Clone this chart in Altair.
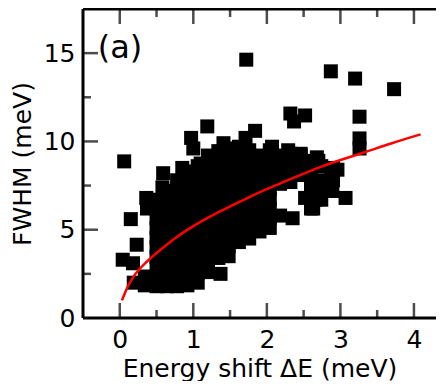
import altair as alt
import pandas as pd

# ---- scatter data ----
# dense cluster, listed column by column
col_x = [0.34, 0.50, 0.64, 0.78, 0.92, 1.06, 1.20, 1.34, 1.48, 1.62, 1.76, 1.90, 2.04, 2.18, 2.32, 2.46, 2.60, 2.74, 2.88]
col_y = [
    [1.85, 2.35],
    [1.8, 2.35, 2.9, 3.45, 4.0, 4.55, 5.1, 5.65, 6.2, 6.7],
    [1.8, 2.35, 2.9, 3.45, 4.0, 4.55, 5.1, 5.65, 6.2, 6.75, 7.2],
    [1.8, 2.35, 2.9, 3.45, 4.0, 4.55, 5.1, 5.65, 6.2, 6.75, 7.3, 7.8],
    [1.85, 2.4, 2.95, 3.5, 4.05, 4.6, 5.15, 5.7, 6.25, 6.8, 7.35, 7.9, 8.3],
    [2.0, 2.55, 3.1, 3.65, 4.2, 4.75, 5.3, 5.85, 6.4, 6.95, 7.5, 8.05, 8.6],
    [2.6, 3.15, 3.7, 4.25, 4.8, 5.35, 5.9, 6.45, 7.0, 7.55, 8.1, 8.65, 9.2],
    [3.4, 3.95, 4.5, 5.05, 5.6, 6.15, 6.7, 7.25, 7.8, 8.35, 8.9, 9.45],
    [3.5, 4.05, 4.6, 5.15, 5.7, 6.25, 6.8, 7.35, 7.9, 8.45, 9.0, 9.6],
    [4.3, 4.85, 5.4, 5.95, 6.5, 7.05, 7.6, 8.15, 8.7, 9.25, 9.7],
    [4.5, 5.05, 5.6, 6.15, 6.7, 7.25, 7.8, 8.35, 8.9, 9.5],
    [4.9, 5.45, 6.0, 6.55, 7.1, 7.65, 8.2, 8.75, 9.2],
    [5.1, 5.65, 6.2, 6.75, 7.3, 7.85, 8.4, 8.95, 9.5],
    [5.8, 7.6, 8.15, 8.7, 9.2],
    [7.7, 8.25, 8.8, 9.3],
    [8.1, 8.65, 9.2],
    [6.2, 7.4, 7.95, 8.5, 8.9],
    [6.7, 7.25, 8.6],
    [7.2, 7.8, 8.3],
]
# scattered squares around the cluster and outliers
extra_x = [0.06, 1.19, 0.97, 1.00, 1.10, 0.85, 0.59, 0.58, 0.78, 0.36, 0.15, 0.23, 0.04, 0.18, 0.19,
           0.37, 1.37, 1.41, 1.71, 1.84, 2.07, 2.29, 2.46, 2.68, 2.70, 2.90, 2.96, 2.73, 2.90, 2.89,
           2.66, 2.52, 2.63, 2.35, 3.07, 1.72, 2.87, 3.20, 3.73, 2.32, 2.52, 2.37, 3.26, 3.26, 3.26]
extra_y = [8.87, 10.85, 10.2, 9.6, 8.75, 8.5, 8.2, 7.4, 7.1, 6.8, 5.6, 4.15, 3.3, 3.1, 2.0,
           6.2, 2.5, 9.9, 10.2, 10.6, 9.7, 9.5, 9.3, 9.1, 8.9, 8.5, 8.4, 7.8, 7.8, 7.2,
           6.7, 6.8, 6.2, 5.65, 6.8, 14.63, 13.97, 13.56, 12.96, 11.58, 11.47, 11.13, 11.4, 10.17, 9.6]

# red fit curve
fit_x = [0.03, 0.10, 0.18, 0.37, 0.55, 0.73, 1.00, 1.37, 1.64, 1.84, 2.20, 2.76, 3.34, 3.70, 4.09]
fit_y = [1.0, 1.7, 2.3, 3.2, 3.85, 4.45, 5.2, 6.05, 6.6, 7.0, 7.65, 8.6, 9.4, 9.9, 10.4]

x_ticks = [0, 1, 2, 3, 4]
x_minor = [0.5, 1.5, 2.5, 3.5]
y_ticks = [0, 5, 10, 15]
y_minor = [2.5, 7.5, 12.5]
x_dom = [-0.5, 4.3]   # the frame is cut at the right edge of the picture
y_dom = [0, 17.5]

FONT = "DejaVu Sans"

pts_x, pts_y = [], []
for cx, ys in zip(col_x, col_y):
    for v in ys:
        pts_x.append(cx)
        pts_y.append(v)
pts_x += extra_x
pts_y += extra_y
pts = pd.DataFrame({"x": pts_x, "y": pts_y})
fit = pd.DataFrame({"x": fit_x, "y": fit_y})

xs = alt.Scale(domain=x_dom, nice=False, zero=False)
ys = alt.Scale(domain=y_dom, nice=False, zero=False)

scatter = alt.Chart(pts).mark_square(size=196, color="black", opacity=1, strokeWidth=0).encode(
    x=alt.X("x:Q", scale=xs, title="Energy shift ΔE (meV)",
            axis=alt.Axis(values=x_ticks, format="d", ticks=False, tickSize=0, domain=False,
                          grid=False, labelPadding=9, titlePadding=4)),
    y=alt.Y("y:Q", scale=ys, title="FWHM (meV)",
            axis=alt.Axis(values=y_ticks, format="d", ticks=False, tickSize=0, domain=False,
                          grid=False, labelPadding=8, titlePadding=8)),
)

line = alt.Chart(fit).mark_line(color="#ff0000", strokeWidth=2.5, interpolate="monotone").encode(
    x=alt.X("x:Q", scale=xs), y=alt.Y("y:Q", scale=ys))

# frame: left, bottom and top lines
frame_h = alt.Chart(pd.DataFrame({"y": y_dom})).mark_rule(color="black", strokeWidth=3).encode(
    y=alt.Y("y:Q", scale=ys))
frame_v = alt.Chart(pd.DataFrame({"x": [x_dom[0]]})).mark_rule(color="black", strokeWidth=3).encode(
    x=alt.X("x:Q", scale=xs))

# inward tick marks (half of each tick is clipped away)
vt_x, vt_y, vt_len = [], [], []
for v in x_ticks + x_minor:
    for side in y_dom:
        vt_x.append(v); vt_y.append(side); vt_len.append(30 if v in x_ticks else 16)
ht_x, ht_y, ht_len = [], [], []
for v in y_ticks[1:] + y_minor:
    ht_x.append(x_dom[0]); ht_y.append(v); ht_len.append(30 if v in y_ticks else 16)
vt = pd.DataFrame({"x": vt_x, "y": vt_y, "len": vt_len})
ht = pd.DataFrame({"x": ht_x, "y": ht_y, "len": ht_len})

vticks = alt.Chart(vt).mark_tick(orient="vertical", thickness=2.5, color="black", clip=True).encode(
    x=alt.X("x:Q", scale=xs), y=alt.Y("y:Q", scale=ys),
    size=alt.Size("len:Q", scale=None, legend=None))
hticks = alt.Chart(ht).mark_tick(orient="horizontal", thickness=2.5, color="black", clip=True).encode(
    x=alt.X("x:Q", scale=xs), y=alt.Y("y:Q", scale=ys),
    size=alt.Size("len:Q", scale=None, legend=None))

label = alt.Chart(pd.DataFrame({"x": [-0.3], "y": [15.3], "t": ["(a)"]})).mark_text(
    align="left", baseline="middle", font=FONT, fontSize=32, color="black").encode(
    x=alt.X("x:Q", scale=xs), y=alt.Y("y:Q", scale=ys), text="t:N")

chart = alt.layer(scatter, line, vticks, hticks, frame_h, frame_v, label).properties(
    width=353, height=309,
    autosize=alt.AutoSizeParams(type="none"),
    padding={"left": 75, "top": 1, "right": 0, "bottom": 63},
).configure_view(stroke=None).configure_axis(
    labelFont=FONT, labelFontSize=25, labelColor="black",
    titleFont=FONT, titleFontSize=25, titleFontWeight="normal", titleColor="black",
)

chart.save("out.html", embed_options={"renderer": "svg", "actions": False})
